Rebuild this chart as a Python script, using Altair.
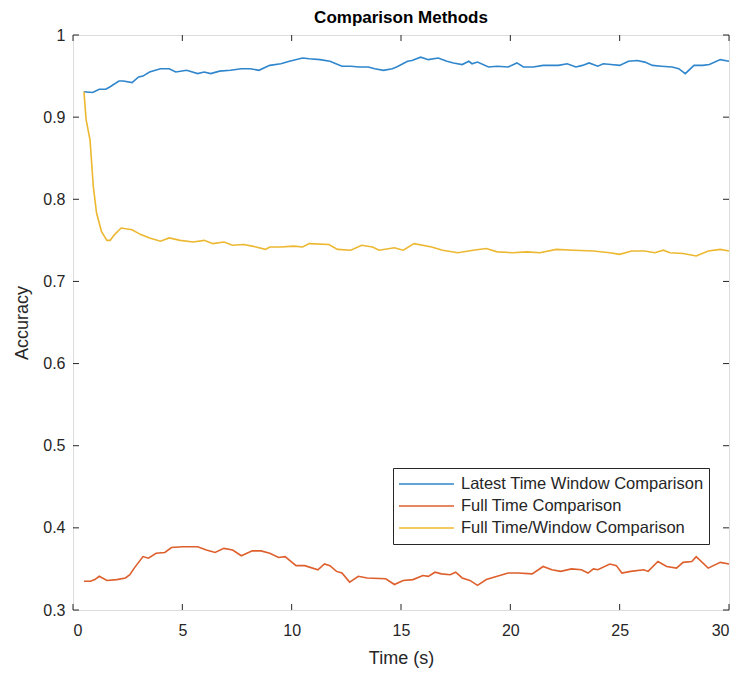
import altair as alt
import pandas as pd

# ---------------- data ----------------
series_names = ["Latest Time Window Comparison", "Full Time Comparison", "Full Time/Window Comparison"]
series_colors = ["#2F86CC", "#DD5F2C", "#EDB831"]

t_latest = [0.5, 0.9, 1.2, 1.5, 1.7, 2.1, 2.3, 2.7, 3.0, 3.2, 3.5, 4.0, 4.4, 4.7, 5.2, 5.7, 6.0, 6.3,
            6.7, 7.2, 7.7, 8.1, 8.5, 9.0, 9.5, 9.9, 10.5, 10.8, 11.3, 11.75, 12.3, 12.7, 13.1, 13.5,
            13.8, 14.2, 14.6, 14.8, 15.3, 15.5, 15.9, 16.25, 16.7, 17.1, 17.4, 17.8, 18.1, 18.25,
            18.5, 19.0, 19.4, 19.9, 20.3, 20.6, 21.05, 21.5, 21.8, 22.2, 22.6, 23.0, 23.3, 23.6,
            24.0, 24.25, 24.6, 25.0, 25.4, 25.8, 26.15, 26.5, 26.9, 27.4, 27.7, 28.0, 28.4, 28.8,
            29.1, 29.6, 30.0]
acc_latest = [0.931, 0.930, 0.934, 0.934, 0.937, 0.944, 0.944, 0.942, 0.949, 0.950, 0.955, 0.959,
              0.959, 0.955, 0.957, 0.953, 0.955, 0.953, 0.956, 0.957, 0.959, 0.959, 0.957, 0.963,
              0.965, 0.968, 0.972, 0.971, 0.970, 0.968, 0.962, 0.962, 0.961, 0.961, 0.959, 0.957,
              0.959, 0.961, 0.968, 0.969, 0.973, 0.970, 0.972, 0.968, 0.966, 0.964, 0.968, 0.965,
              0.967, 0.961, 0.962, 0.961, 0.966, 0.961, 0.961, 0.963, 0.963, 0.963, 0.965, 0.961,
              0.963, 0.966, 0.962, 0.965, 0.964, 0.963, 0.968, 0.969, 0.967, 0.963, 0.962, 0.961,
              0.959, 0.953, 0.963, 0.963, 0.964, 0.970, 0.968]

t_full = [0.5, 0.8, 1.0, 1.2, 1.55, 2.0, 2.4, 2.6, 2.8, 3.2, 3.45, 3.8, 4.2, 4.5, 5.0, 5.7, 6.1, 6.5,
          6.9, 7.3, 7.7, 8.2, 8.6, 9.0, 9.4, 9.7, 10.2, 10.6, 11.2, 11.5, 11.75, 12.05, 12.3, 12.65,
          13.05, 13.45, 14.3, 14.7, 15.1, 15.55, 16.0, 16.25, 16.55, 16.85, 17.25, 17.5, 17.8,
          18.15, 18.5, 18.9, 19.4, 19.9, 20.35, 21.0, 21.5, 21.9, 22.3, 22.8, 23.25, 23.55, 23.8,
          24.0, 24.55, 24.85, 25.1, 25.5, 26.1, 26.3, 26.75, 27.15, 27.6, 27.9, 28.3, 28.5, 29.05,
          29.6, 30.0]
acc_full = [0.335, 0.335, 0.337, 0.341, 0.336, 0.337, 0.339, 0.343, 0.351, 0.365, 0.363, 0.369,
            0.370, 0.376, 0.377, 0.377, 0.373, 0.370, 0.375, 0.373, 0.366, 0.372, 0.372, 0.369,
            0.364, 0.365, 0.354, 0.354, 0.349, 0.356, 0.354, 0.347, 0.345, 0.334, 0.341, 0.339,
            0.338, 0.331, 0.336, 0.337, 0.342, 0.341, 0.346, 0.344, 0.343, 0.346, 0.339, 0.336,
            0.330, 0.337, 0.341, 0.345, 0.345, 0.344, 0.353, 0.349, 0.347, 0.350, 0.349, 0.345,
            0.350, 0.349, 0.356, 0.354, 0.345, 0.347, 0.349, 0.347, 0.359, 0.353, 0.351, 0.358,
            0.359, 0.365, 0.351, 0.358, 0.356]

t_window = [0.5, 0.6, 0.78, 0.93, 1.08, 1.3, 1.55, 1.7, 1.9, 2.2, 2.7, 3.1, 3.5, 4.0, 4.4, 4.9, 5.5,
            6.0, 6.4, 6.9, 7.3, 7.8, 8.2, 8.8, 9.0, 9.5, 10.1, 10.5, 10.8, 11.7, 12.1, 12.7, 13.2,
            13.7, 14.0, 14.7, 15.1, 15.6, 16.4, 16.9, 17.6, 18.3, 18.9, 19.4, 20.1, 20.75, 21.35,
            22.1, 22.9, 23.8, 24.55, 25.0, 25.55, 26.15, 26.6, 27.0, 27.3, 27.9, 28.5, 29.05, 29.6,
            30.0]
acc_window = [0.931, 0.897, 0.872, 0.815, 0.783, 0.761, 0.750, 0.750, 0.757, 0.765, 0.763, 0.757,
              0.753, 0.749, 0.753, 0.750, 0.748, 0.750, 0.746, 0.748, 0.744, 0.745, 0.743, 0.739,
              0.742, 0.742, 0.743, 0.742, 0.746, 0.745, 0.739, 0.738, 0.744, 0.742, 0.738, 0.741,
              0.738, 0.746, 0.742, 0.738, 0.735, 0.738, 0.740, 0.736, 0.735, 0.736, 0.735, 0.739,
              0.738, 0.737, 0.735, 0.733, 0.737, 0.737, 0.735, 0.738, 0.735, 0.734, 0.731, 0.737,
              0.739, 0.737]

x_ticks = [0, 5, 10, 15, 20, 25, 30]
y_ticks = [0.3, 0.4, 0.5, 0.6, 0.7, 0.8, 0.9, 1.0]

# ---------------- build table ----------------
frames = []
for name, ts, vs in zip(series_names, [t_latest, t_full, t_window], [acc_latest, acc_full, acc_window]):
    frames.append(pd.DataFrame({"time": ts, "acc": vs, "series": name}))
df = pd.concat(frames, ignore_index=True)

W, H = 656, 575
FONT = "Liberation Sans"
TXT = "#262626"

x_scale = alt.Scale(domain=[0, 30], nice=False, zero=False)
y_scale = alt.Scale(domain=[0.3, 1.0], nice=False, zero=False)

x_axis = alt.Axis(values=x_ticks, title="Time (s)", grid=False, domain=False, ticks=False,
                  tickSize=0, labelPadding=12, labelFontSize=16, labelFont=FONT,
                  labelColor=TXT, titleFont=FONT, titleFontSize=18, titleFontWeight="normal",
                  titleColor=TXT, titleX=W / 2, titleY=48, titleBaseline="middle",
                  titleAlign="center")
y_axis = alt.Axis(values=y_ticks, title="Accuracy", grid=False, domain=False, ticks=False,
                  tickSize=0, labelPadding=8, labelFontSize=16, labelFont=FONT,
                  labelColor=TXT,
                  labelExpr="datum.value == 1 ? '1' : format(datum.value, '.1f')",
                  titleFont=FONT, titleFontSize=18, titleFontWeight="normal",
                  titleColor=TXT, titleX=-51, titleY=H / 2, titleAngle=270,
                  titleBaseline="middle", titleAlign="center")

lines = alt.Chart(df).mark_line(strokeWidth=1.6).encode(
    x=alt.X("time:Q", scale=x_scale, axis=x_axis),
    y=alt.Y("acc:Q", scale=y_scale, axis=y_axis),
    color=alt.Color("series:N",
                    scale=alt.Scale(domain=series_names, range=series_colors),
                    sort=series_names,
                    legend=alt.Legend(orient="none", legendX=320, legendY=433, title=None,
                                      symbolType="stroke", symbolSize=3025, symbolStrokeWidth=1.6,
                                      labelFont=FONT, labelFontSize=16.5, labelColor=TXT,
                                      labelOffset=6, padding=5, strokeColor=TXT,
                                      fillColor="white", clipHeight=22, rowPadding=0,
                                      labelLimit=400)),
)

xt = pd.DataFrame({"time": x_ticks})
yt = pd.DataFrame({"acc": y_ticks})

xtick_bottom = alt.Chart(xt).mark_rule(color=TXT, strokeWidth=1).encode(
    x=alt.X("time:Q", scale=x_scale, axis=x_axis), y=alt.value(H), y2=alt.value(H - 6))
xtick_top = alt.Chart(xt).mark_rule(color=TXT, strokeWidth=1).encode(
    x=alt.X("time:Q", scale=x_scale, axis=x_axis), y=alt.value(0), y2=alt.value(6))
ytick_left = alt.Chart(yt).mark_rule(color=TXT, strokeWidth=1).encode(
    y=alt.Y("acc:Q", scale=y_scale, axis=y_axis), x=alt.value(0), x2=alt.value(6))
ytick_right = alt.Chart(yt).mark_rule(color=TXT, strokeWidth=1).encode(
    y=alt.Y("acc:Q", scale=y_scale, axis=y_axis), x=alt.value(W), x2=alt.value(W - 6))

chart = alt.layer(lines, xtick_bottom, xtick_top, ytick_left, ytick_right).properties(
    width=W, height=H,
    title=alt.Title("Comparison Methods", font=FONT, fontSize=17, fontWeight="bold",
                    color="#000000", anchor="middle", offset=0),
    autosize=alt.AutoSizeParams(type="none"),
    padding={"left": 73, "top": 35, "right": 14, "bottom": 65},
).configure_view(stroke=TXT, strokeWidth=1).configure(background="white")

chart.save("out.html", embed_options={"renderer": "svg", "actions": False})
